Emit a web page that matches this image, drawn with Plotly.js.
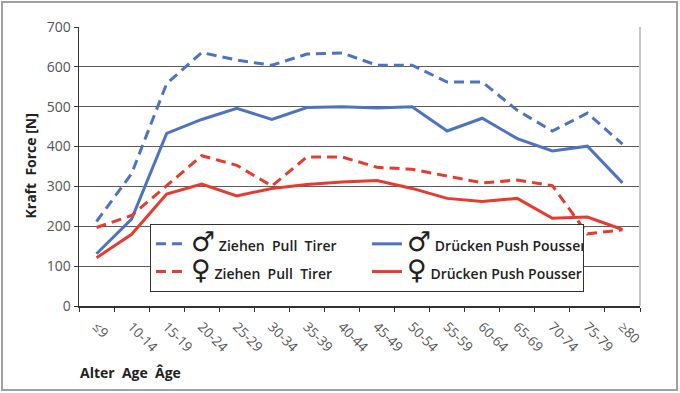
<!DOCTYPE html>
<html>
<head>
<meta charset="utf-8">
<script src="https://cdn.plot.ly/plotly-3.0.1.min.js"></script>
<style>html,body{margin:0;padding:0;background:#fff}#chart{width:680px;height:393px}</style>
</head>
<body>
<div id="chart"></div>
<script>
const ageGroups = ['≤9','10-14','15-19','20-24','25-29','30-34','35-39','40-44','45-49','50-54','55-59','60-64','65-69','70-74','75-79','≥80'];
const malePull   = [212, 332, 558, 636, 617, 604, 632, 635, 604, 604, 562, 562, 491, 439, 484, 406];
const malePush   = [131, 218, 433, 468, 496, 468, 498, 500, 497, 500, 439, 471, 420, 389, 401, 309];
const femalePull = [197, 227, 302, 377, 353, 301, 374, 374, 348, 343, 326, 309, 316, 302, 181, 191];
const femalePush = [121, 180, 281, 306, 276, 295, 305, 311, 315, 295, 270, 262, 270, 220, 223, 192];
const yTicks = [0, 100, 200, 300, 400, 500, 600, 700];

const blue = '#4f74bf', red = '#e63b2e';
const dash = '10px,6px';
const sym = (s, t) => '<span style="font-family:DejaVu Sans;font-size:27px">' + s + '</span>' +
  '<span style="font-size:14px"> ' + t + '</span>';

const traces = [
  {x: ageGroups, y: malePull, name: sym('♂', 'Ziehen&nbsp; Pull&nbsp; Tirer'), mode: 'lines', line: {color: blue, width: 3, dash: dash}},
  {x: ageGroups, y: malePush, name: sym('♂', 'Drücken Push Pousser'), mode: 'lines', line: {color: blue, width: 3}},
  {x: ageGroups, y: femalePull, name: sym('♀', 'Ziehen&nbsp; Pull&nbsp; Tirer'), mode: 'lines', line: {color: red, width: 3, dash: dash}},
  {x: ageGroups, y: femalePush, name: sym('♀', 'Drücken Push Pousser'), mode: 'lines', line: {color: red, width: 3}}
];

const W = 561, H = 279, L = 79, T = 27;
const px = v => (v - L) / W;
const py = v => (T + H - v) / H;

const layout = {
  width: 680, height: 393,
  margin: {l: L, r: 680 - L - W, t: T, b: 393 - T - H, pad: 0},
  paper_bgcolor: '#fff', plot_bgcolor: '#fff',
  font: {family: 'Open Sans, sans-serif', size: 13, color: '#555'},
  showlegend: true,
  legend: {
    orientation: 'h', x: px(150), y: py(292), xanchor: 'left', yanchor: 'bottom',
    entrywidth: 171, entrywidthmode: 'pixels',
    bordercolor: '#333', borderwidth: 1, bgcolor: '#fff',
    font: {family: 'Open Sans, sans-serif', size: 19, color: '#222', weight: 600},
    valign: 'middle', traceorder: 'normal', tracegroupgap: 0
  },
  xaxis: {
    type: 'category', tickangle: 45, tickson: 'boundaries', ticks: 'outside', ticklen: 4,
    tickcolor: '#333', showline: true, linecolor: '#333', linewidth: 1.5, showgrid: false,
    tickfont: {size: 13.5, color: '#555'}, ticklabelstandoff: 6, range: [-0.5, ageGroups.length - 0.5]
  },
  yaxis: {
    range: [0, 700], tickvals: yTicks, ticktext: yTicks.map(String), ticks: 'outside', ticklen: 4,
    tickcolor: '#333', showline: true, linecolor: '#333', linewidth: 1.5,
    showgrid: true, gridcolor: '#5c5c5c', gridwidth: 1, zeroline: false,
    tickfont: {size: 14, color: '#555'}
  },
  annotations: [
    {text: '<b>Kraft&nbsp;&nbsp;Force [N]</b>', xref: 'paper', yref: 'paper', x: px(30), y: 0.5,
     textangle: -90, showarrow: false, font: {size: 14, color: '#222'}, xanchor: 'center', yanchor: 'middle'},
    {text: '<b>Alter&nbsp;&nbsp;Age&nbsp;&nbsp;Âge</b>', xref: 'paper', yref: 'paper', x: px(78), y: py(372),
     showarrow: false, font: {size: 14, color: '#222'}, xanchor: 'left', yanchor: 'middle'}
  ],
  shapes: [
    {type: 'line', xref: 'paper', yref: 'paper', x0: 1, x1: 1, y0: 0, y1: 1, line: {color: '#c8c8c8', width: 2}},
    {type: 'rect', xref: 'paper', yref: 'paper', x0: px(2), x1: px(677), y0: py(390), y1: py(2), line: {color: '#a0a0a0', width: 2}, layer: 'below'}
  ]
};

Plotly.newPlot('chart', traces, layout, {displayModeBar: false, staticPlot: true});
</script>
</body>
</html>
